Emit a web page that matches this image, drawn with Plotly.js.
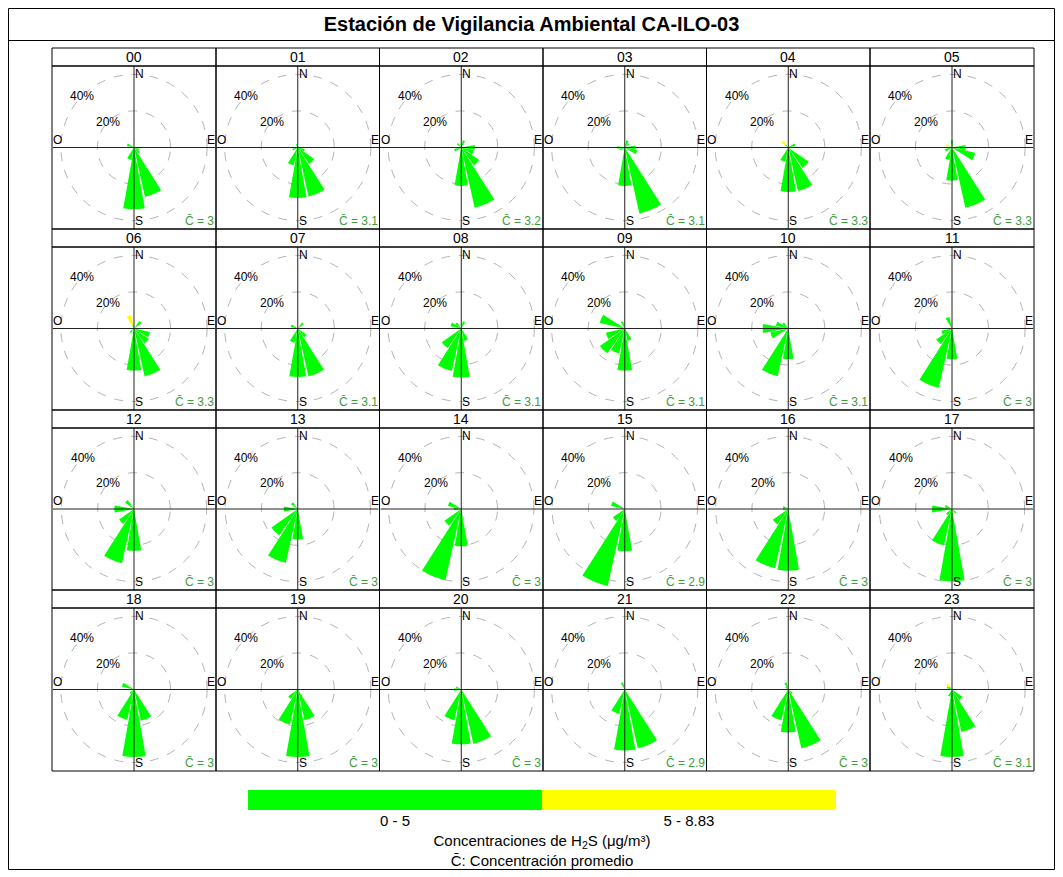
<!DOCTYPE html>
<html>
<head>
<meta charset="utf-8">
<script src="https://cdn.plot.ly/plotly-3.0.1.min.js"></script>
<style>html,body{margin:0;padding:0;background:#fff;}#chart{width:1063px;height:877px;}</style>
</head>
<body>
<div id="chart"></div>
<script>
// ---------------- DATA ----------------
const hours = ['00','01','02','03','04','05','06','07','08','09','10','11',
               '12','13','14','15','16','17','18','19','20','21','22','23'];
const dirLabels = ['N','NNE','NE','ENE','E','ESE','SE','SSE','S','SSW','SW','WSW','W','WNW','NW','NNW'];
const dirAngles = [0,22.5,45,67.5,90,112.5,135,157.5,180,202.5,225,247.5,270,292.5,315,337.5];
const cardinalText = ['N','E','S','O'];
const meanConc = [3,3.1,3.2,3.1,3.3,3.3,3.3,3.1,3.1,3.1,3.1,3,3,3,3,2.9,3,3,3,3,3,2.9,3,3.1];
const bandLabels = ['0 - 5','5 - 8.83'];
const bandColors = ['#00ff00','#ffff00'];
// frequency (%) per direction (N..NNW), concentration band 0 - 5
const freqBand1 = [
  [0,0,0,0,0,3,4,27.7,33.8,7,0,0,0,4,0,0],        // 00
  [0,0,0,0,0,4,11,27.4,27.6,10,0,3,0,0,0,2],      // 01
  [2,4,0,0,7.5,7,12,33.7,21,0,0,4,0,0,3,0],       // 02
  [0,4,3,0,6,7,0,37,21,0,0,3,4,0,0,0],            // 03
  [0,0,0,4,0,0,13.7,24.4,24.3,8,0,0,0,0,2,0],     // 04
  [4,0,0,0,7.5,13,0,33.8,18,7,0,4,0,1,0,0],       // 05
  [0,0,5,0,0,9,10,26.8,23,0,3,0,0,0,0,2],         // 06
  [0,0,4,0,0,0,6,26.8,26.5,8,0,0,0,4,0,0],        // 07
  [0,4,0,0,0,0,0,7,26.8,23.8,13,0,0,6,4,0],       // 08
  [0,0,0,0,0,0,0,7,23,14,16.6,10.6,0,14,0,4],     // 09
  [0,0,0,0,0,0,0,0,16.8,26.8,0,10,14,7,4,0],      // 10
  [0,0,0,0,0,0,0,0,16.8,33.2,10.6,6,0,0,0,6.5],   // 11
  [0,0,0,0,0,0,0,0,23,30.6,10,0,10.8,0,6,0],      // 12
  [0,0,0,0,0,0,0,0,16.8,30.4,17.7,0,7.7,0,4.5,0], // 13
  [0,0,0,0,0,0,0,0,20.5,40.2,11.3,0,4,7.5,0,0],   // 14
  [0,0,0,0,0,0,0,0,23.2,43.4,8,0,0,7.7,0,0],      // 15
  [0,0,0,0,0,0,0,0,34,33.4,10.4,0,3,3,0,0],       // 16
  [0,0,0,0,0,0,3,0,39.8,20.5,4,0,11,4,0,0],       // 17
  [0,0,0,0,0,0,0,17.5,36.9,17,3,0,0,6.8,0,0],     // 18
  [0,0,0,0,0,0,0,17.2,36.9,19.6,6.4,0,0,0,0,0],   // 19
  [0,0,0,0,0,0,0,30.4,30,17.2,0,0,4,3,0,0],       // 20
  [0,0,0,0,0,0,0,32.9,33.4,13.6,0,0,0,0,0,4],     // 21
  [0,0,0,0,0,0,3,33,23.5,17.2,0,0,0,0,2,4],       // 22
  [0,0,0,0,0,0,7,23.8,36.9,4,0,0,0,3,2,0]         // 23
];
// frequency (%) per direction, concentration band 5 - 8.83 (stacked on top)
const freqBand2 = [
  [0,0,0,0,0,0,0,0,0,0,0,0,0,0,0,0],
  [0,0,0,0,0,0,0,0,0,0,0,0,0,0,0,0],
  [0,0,0,0,0,0,0,0,0,0,0,0,0,0,0,0],
  [0,0,0,0,0,0,0,0,0,0,0,0,0,0,0,0],
  [0,0,0,0,0,0,0,0,0,0,0,0,0,0,2.5,0],
  [0,0,0,0,0,0,0,0,0,0,0,0,0,2.5,0,0],
  [0,0,0,0,0,0,0,0,0,0,0,0,0,0,0,5.5],
  [0,0,0,0,0,0,0,0,0,0,0,0,0,0,0,0],
  [0,0,0,0,0,0,0,0,0,0,0,0,0,0,0,0],
  [0,0,0,0,0,0,0,0,0,0,0,0,0,0,0,0],
  [0,0,0,0,0,0,0,0,0,0,0,0,0,0,0,0],
  [0,0,0,0,0,0,0,0,0,0,0,0,0,0,0,0],
  [0,0,0,0,0,0,0,0,0,0,0,0,0,0,0,0],
  [0,0,0,0,0,0,0,0,0,0,0,0,0,0,0,0],
  [0,0,0,0,0,0,0,0,0,0,0,0,0,0,0,0],
  [0,0,0,0,0,0,0,0,0,0,0,0,0,0,0,0],
  [0,0,0,0,0,0,0,0,0,0,0,0,0,0,0,0],
  [0,0,0,0,0,0,0,0,0,0,0,0,0,0,0,0],
  [0,0,0,0,0,0,0,0,0,0,0,0,0,0,0,0],
  [0,0,0,0,0,0,0,0,0,0,0,0,0,0,0,0],
  [0,0,0,0,0,0,0,0,0,0,0,0,0,0,0,0],
  [0,0,0,0,0,0,0,0,0,0,0,0,0,0,0,0],
  [0,0,0,0,0,0,0,0,0,0,0,0,0,0,0,0],
  [0,0,0,0,0,0,0,0,0,0,0,0,0,0,2,0]
];
const radialTicks = [20,40];
const radialTickText = ['20%','40%'];

// ---------------- LAYOUT ----------------
const W = 1063, H = 877;
const FONT = 'Liberation Sans, Arial, sans-serif';
const colEdges = [52, 216, 379.5, 543, 706.5, 870, 1034];
const stripTop = [48, 229, 410, 590];
const stripH = 18;
const panelBottom = [229, 410, 590, 771];
const RMAX = 44.6;
const LABEL_ANGLE = 135; // radial labels along the NW diagonal
const fx = x => x / W;
const fy = y => 1 - y / H;

const traces = [];
const layout = {
  width: W, height: H,
  margin: {l: 0, r: 0, t: 0, b: 0},
  paper_bgcolor: '#fff',
  showlegend: false,
  font: {family: FONT, color: '#000'},
  title: {text: '<b>Estación de Vigilancia Ambiental CA-ILO-03</b>',
          font: {size: 20, family: FONT, color: '#000'},
          x: 0.5, xanchor: 'center', y: fy(24), yanchor: 'middle', yref: 'paper'},
  shapes: [], annotations: []
};

layout.shapes.push({type: 'rect', xref: 'paper', yref: 'paper', x0: fx(8.5), x1: fx(1054.5), y0: fy(869.5), y1: fy(8.5), line: {color: '#000', width: 1}});
layout.shapes.push({type: 'line', xref: 'paper', yref: 'paper', x0: fx(8.5), x1: fx(1054.5), y0: fy(40.5), y1: fy(40.5), line: {color: '#000', width: 1}});

for (let i = 0; i < 24; i++) {
  const row = Math.floor(i / 6), col = i % 6;
  const x0 = colEdges[col], x1 = colEdges[col + 1];
  const st = stripTop[row], pt = st + stripH, pb = panelBottom[row];
  const cx = (x0 + x1) / 2, cy = (pt + pb) / 2;
  const radPx = Math.min(x1 - x0, pb - pt) / 2;
  const key = i === 0 ? 'polar' : 'polar' + (i + 1);

  layout[key] = {
    domain: {x: [fx(x0), fx(x1)], y: [fy(pb), fy(pt)]},
    bgcolor: '#fff',
    barmode: 'stack',
    hole: 0,
    radialaxis: {range: [0, RMAX], tickmode: 'array', tickvals: radialTicks,
                 showline: false, ticks: '', angle: LABEL_ANGLE, showticklabels: false,
                 gridcolor: '#b4b4b4', griddash: 'dash', gridwidth: 1},
    angularaxis: {rotation: 90, direction: 'clockwise', showgrid: false,
                  showline: false, showticklabels: false, ticks: ''}
  };

  traces.push({type: 'barpolar', subplot: key, r: freqBand1[i], theta: dirAngles,
               width: 20, name: bandLabels[0], marker: {color: bandColors[0], line: {width: 0}},
               hoverinfo: 'skip'});
  traces.push({type: 'barpolar', subplot: key, r: freqBand2[i], theta: dirAngles,
               width: 20, name: bandLabels[1], marker: {color: bandColors[1], line: {width: 0}},
               hoverinfo: 'skip'});
  traces.push({type: 'scatterpolar', subplot: key, mode: 'lines',
               r: [RMAX, RMAX, null, RMAX, RMAX], theta: [0, 180, null, 90, 270],
               line: {color: '#222', width: 1}, connectgaps: false, hoverinfo: 'skip', cliponaxis: false});

  layout.shapes.push({type: 'rect', xref: 'paper', yref: 'paper', x0: fx(x0), x1: fx(x1), y0: fy(pt), y1: fy(st), line: {color: '#000', width: 1}});
  layout.shapes.push({type: 'rect', xref: 'paper', yref: 'paper', x0: fx(x0), x1: fx(x1), y0: fy(pb), y1: fy(pt), line: {color: '#000', width: 1}});

  const A = (o) => Object.assign({xref: 'paper', yref: 'paper', showarrow: false,
                                  font: {size: 12, color: '#000', family: FONT}, borderpad: 0}, o);
  layout.annotations.push(A({text: hours[i], x: fx(cx), y: fy(st + stripH / 2), xanchor: 'center', yanchor: 'middle', font: {size: 14, color: '#000', family: FONT}}));
  layout.annotations.push(A({text: cardinalText[0], x: fx(cx), y: fy(pt), xanchor: 'left', yanchor: 'top'}));
  layout.annotations.push(A({text: cardinalText[1], x: fx(x1), y: fy(cy), xanchor: 'right', yanchor: 'bottom'}));
  layout.annotations.push(A({text: cardinalText[2], x: fx(cx), y: fy(pb), xanchor: 'left', yanchor: 'bottom'}));
  layout.annotations.push(A({text: cardinalText[3], x: fx(x0), y: fy(cy), xanchor: 'left', yanchor: 'bottom'}));
  layout.annotations.push(A({text: 'C\u0304 = ' + meanConc[i], x: fx(x1 - 1), y: fy(pb), xanchor: 'right', yanchor: 'bottom',
                             font: {size: 12, color: '#3a9e3a', family: FONT}}));
  radialTicks.forEach((v, k) => {
    const rp = v / RMAX * radPx;
    const a = LABEL_ANGLE * Math.PI / 180;
    layout.annotations.push(A({text: radialTickText[k], x: fx(cx + rp * Math.cos(a)), y: fy(cy - rp * Math.sin(a)),
                               xanchor: 'center', yanchor: 'middle'}));
  });
}

traces.push({type: 'heatmap', x: bandLabels, y: [0], z: [[0, 1]], xaxis: 'x', yaxis: 'y',
             colorscale: [[0, bandColors[0]], [0.5, bandColors[0]], [0.5, bandColors[1]], [1, bandColors[1]]],
             showscale: false, hoverinfo: 'skip'});
layout.xaxis = {domain: [fx(248), fx(836)], anchor: 'y', showgrid: false, zeroline: false, showline: false,
                ticks: '', tickfont: {size: 15, color: '#000', family: FONT}, fixedrange: true,
                title: {text: 'Concentraciones de H<sub>2</sub>S (μg/m³)<br>C\u0304: Concentración promedio',
                        font: {size: 15, color: '#000', family: FONT}, standoff: 7}};
layout.yaxis = {domain: [fy(810), fy(790)], anchor: 'x', visible: false, fixedrange: true};

Plotly.newPlot('chart', traces, layout, {staticPlot: true, displayModeBar: false});
</script>
</body>
</html>
